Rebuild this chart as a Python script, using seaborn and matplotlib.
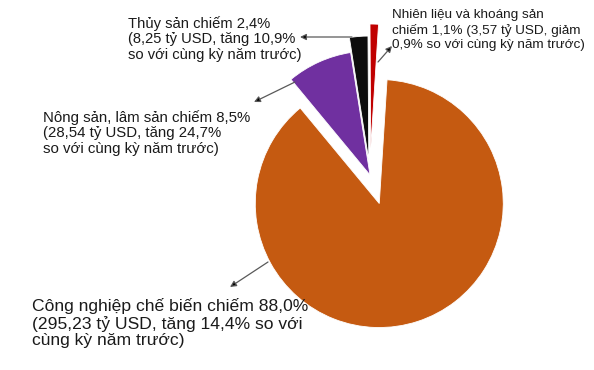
import matplotlib
matplotlib.use("Agg")
import matplotlib.pyplot as plt
import seaborn as sns

sns.set_theme(style="white")
plt.rcParams['font.family'] = ['Liberation Sans', 'DejaVu Sans']

# Data
categories = ["Công nghiệp chế biến", "Nông sản, lâm sản", "Thủy sản", "Nhiên liệu và khoáng sản"]
shares = [88.0, 8.5, 2.4, 1.1]
labels = [
    "Công nghiệp chế biến chiếm 88,0%\n(295,23 tỷ USD, tăng 14,4% so với\ncùng kỳ năm trước)",
    "Nông sản, lâm sản chiếm 8,5%\n(28,54 tỷ USD, tăng 24,7%\nso với cùng kỳ năm trước)",
    "Thủy sản chiếm 2,4%\n(8,25 tỷ USD, tăng 10,9%\nso với cùng kỳ năm trước)",
    "Nhiên liệu và khoáng sản\nchiếm 1,1% (3,57 tỷ USD, giảm\n0,9% so với cùng kỳ năm trước)",
]
colors = ["#C55A11", "#7030A0", "#0D0D0D", "#C00000"]

W, H = 594, 370
fig = plt.figure(figsize=(W / 100, H / 100), dpi=100)
ax = fig.add_axes([0, 0, 1, 1])

cx, cy = 370, H - 175
ax.pie(shares, colors=colors, startangle=86.4, counterclock=False,
       explode=[30, 0, 15, 27], radius=124, center=(cx, cy), frame=True,
       wedgeprops=dict(linewidth=0.6, edgecolor="white"))
ax.set_xlim(0, W)
ax.set_ylim(0, H)
ax.set_aspect("equal")
ax.axis("off")

# (text x, text center y, fontsize, linespacing, arrow start, arrow end) in pixel coords (y down)
specs = [
    (32, 323, 12.6, 1.1, (268, 262), (230, 287)),
    (43, 133, 10.8, 1.13, (295, 82), (254, 102)),
    (128, 39, 10.6, 1.15, (352, 37), (300, 37)),
    (392, 30, 9.7, 1.24, (378, 62), (392, 46)),
]
for lab, (tx, ty, fs, ls, a0, a1) in zip(labels, specs):
    ax.text(tx, H - ty, lab, ha="left", va="center", fontsize=fs,
            color="#1a1a1a", linespacing=ls)
    ax.annotate("", xy=(a1[0], H - a1[1]), xytext=(a0[0], H - a0[1]),
                arrowprops=dict(arrowstyle="-|>", lw=0.9, ec="#595959",
                                fc="black", mutation_scale=9,
                                shrinkA=0, shrinkB=0))

fig.savefig("out.png", dpi=100)
